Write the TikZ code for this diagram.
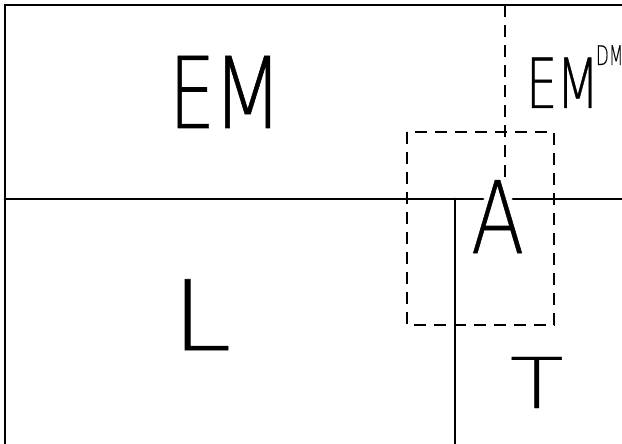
\documentclass[tikz,border=0pt]{standalone}
\usepackage{fontspec}
\usepackage{graphicx}
\newfontfamily\hand{DejaVu Sans ExtraLight}[FakeBold=0.6]
\newcommand{\hs}[2]{\scalebox{#1}[1]{#2}}
\tikzset{
  frame/.style={line width=2.8pt, line cap=round},
  dashline/.style={line width=2.8pt, dash pattern=on 12pt off 8pt},
  letters/.style={inner sep=0pt, outer sep=0pt, anchor=base west},
}
\begin{document}
\begin{tikzpicture}[x=1pt,y=-1pt]
\useasboundingbox (0,0) rectangle (622,444);
% frame lines
\draw[frame] (5,444) -- (5,5) -- (622,5);
\draw[frame] (5,199) -- (483,199);
\draw[frame] (513,199) -- (622,199);
\draw[frame] (455,199) -- (455,444);
% dashed
\draw[dashline] (505,5) -- (505,180);
\draw[dashline] (407,132) rectangle (554,325);
% letters
\node[letters, font=\hand\fontsize{99}{99}\selectfont] (em) at (169,128) {\hs{0.74}{E}\hspace{-3pt}\hs{0.83}{M}};
\node[letters, font=\hand\fontsize{69}{69}\selectfont] (emdm) at (526,108) {\hs{0.72}{E}\hspace{-1pt}\hs{0.72}{M}\hspace{-4pt}};
\node[letters, font=\hand\fontsize{27}{27}\selectfont] (dm) at (596,65) {\hs{0.62}{DM}};
\node[letters, font=\hand\fontsize{100}{100}\selectfont] (a) at (471,253) {\hs{0.78}{A}};
\node[letters, font=\hand\fontsize{97}{97}\selectfont] (l) at (172,350) {\hs{1.1}{L}};
\node[letters, font=\hand\fontsize{70}{70}\selectfont] (t) at (510,408) {\hs{1.25}{T}};
\end{tikzpicture}
\end{document}
